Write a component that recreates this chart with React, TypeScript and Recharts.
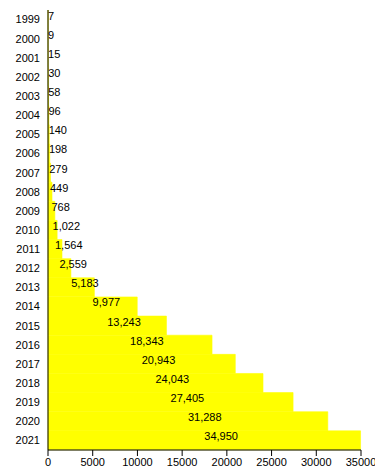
import React from 'react';
import { BarChart, Bar, XAxis, YAxis, LabelList } from 'recharts';

const years = ['1999','2000','2001','2002','2003','2004','2005','2006','2007','2008','2009','2010','2011','2012','2013','2014','2015','2016','2017','2018','2019','2020','2021'];
const values = [7,9,15,30,58,96,140,198,279,449,768,1022,1564,2559,5183,9977,13243,18343,20943,24043,27405,31288,34950];
const xTicks = [0,5000,10000,15000,20000,25000,30000,35000];

const data = years.map((y, i) => ({ year: y, value: values[i] }));

const FONT = 'Arial, "Liberation Sans", sans-serif';

const ValueLabel = (props: any) => {
  const { x, y, width, height, value } = props;
  const cx = Number(x) + Number(width) / 2;
  const cy = Number(y) + Number(height) / 2;
  return (
    <text x={cx} y={cy} textAnchor="start" fontSize={11} fontFamily={FONT} fill="#000">
      {Number(value).toLocaleString('en-US')}
    </text>
  );
};

export default function App() {
  return (
    <div style={{ position: 'absolute', left: 0, top: 0 }}>
      <BarChart
        width={375}
        height={471}
        data={data}
        layout="vertical"
        margin={{ top: 10, right: 14, bottom: 0, left: 0 }}
        barCategoryGap={0}
      >
        <XAxis
          type="number"
          domain={[0, 35000]}
          ticks={xTicks}
          height={21}
          stroke="#000"
          tick={{ fill: '#000', stroke: 'none', fontSize: 11, fontFamily: FONT }}
          interval={0}
        />
        <YAxis
          type="category"
          dataKey="year"
          width={48}
          stroke="#000"
          tickLine={false}
          tick={{ fill: '#000', stroke: 'none', fontSize: 11, fontFamily: FONT }}
          interval={0}
        />
        <Bar dataKey="value" fill="#ffff00" stroke="#ffff00" strokeWidth={0.6} isAnimationActive={false}>
          <LabelList dataKey="value" content={<ValueLabel />} />
        </Bar>
      </BarChart>
    </div>
  );
}
